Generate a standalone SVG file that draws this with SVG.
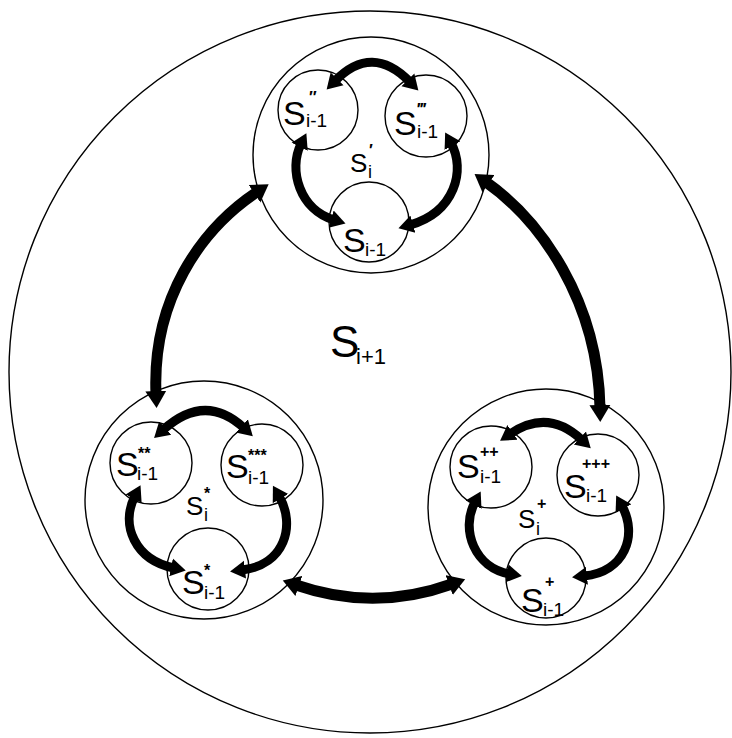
<svg xmlns="http://www.w3.org/2000/svg" width="732" height="738" viewBox="0 0 732 738">
<style>
.c{fill:none;stroke:#000;stroke-width:1.4}
.t{font-family:"Liberation Sans",Arial,sans-serif;fill:#000}
.S{font-size:34px}
.Sm{font-size:26px}
.Sb{font-size:44px}
.sub{font-size:19px}
.subm{font-size:18px}
.subb{font-size:22px}
.sup{font-size:16px;font-weight:bold}
.a{fill:none;stroke:#000;stroke-width:9;marker-start:url(#ah);marker-end:url(#ah)}
.b{fill:none;stroke:#000;stroke-width:11;marker-start:url(#bh);marker-end:url(#bh)}
</style>
<defs>
<marker id="ah" viewBox="0 -10 18 20" refX="3" refY="0" markerWidth="18" markerHeight="20" markerUnits="userSpaceOnUse" orient="auto-start-reverse"><path d="M0,-9 L15,0 L0,9 z" fill="#000"/></marker>
<marker id="bh" viewBox="0 -11 20 22" refX="3" refY="0" markerWidth="20" markerHeight="22" markerUnits="userSpaceOnUse" orient="auto-start-reverse"><path d="M0,-10.5 L17,0 L0,10.5 z" fill="#000"/></marker>
</defs>
<rect width="732" height="738" fill="#fff"/>

<g id="S_i+1">
<circle class="c" cx="370" cy="372" r="361"/>
<text class="t Sb" x="330" y="357">S</text><text class="t subb" x="356" y="364">i+1</text>
</g>

<g id="S_i_prime">
<circle class="c" cx="371" cy="155" r="118"/>
<text class="t Sm" x="350" y="172">S</text><text class="t subm" x="368" y="178">i</text><text class="t sup" x="369" y="156">′</text>
</g>
<g id="S_i-1_pp">
<circle class="c" cx="318" cy="110" r="40"/>
<text class="t S" x="283" y="125">S</text><text class="t sub" x="306" y="127">i-1</text><text class="t sup" x="309" y="103">″</text>
</g>
<g id="S_i-1_ppp">
<circle class="c" cx="426" cy="116" r="41"/>
<text class="t S" x="394" y="135">S</text><text class="t sub" x="417" y="138">i-1</text><text class="t sup" x="418" y="115">‴</text>
</g>
<g id="S_i-1">
<circle class="c" cx="369" cy="222" r="40"/>
<text class="t S" x="343" y="252">S</text><text class="t sub" x="365" y="256">i-1</text>
</g>

<g id="S_i_star">
<circle class="c" cx="204" cy="500" r="119"/>
<text class="t Sm" x="186" y="515">S</text><text class="t subm" x="204" y="521">i</text><text class="t sup" x="204" y="499">*</text>
</g>
<g id="S_i-1_ss">
<circle class="c" cx="151" cy="463" r="41"/>
<text class="t S" x="116" y="476">S</text><text class="t sub" x="137" y="480">i-1</text><text class="t sup" x="138" y="459">**</text>
</g>
<g id="S_i-1_sss">
<circle class="c" cx="262" cy="465" r="41"/>
<text class="t S" x="226" y="478">S</text><text class="t sub" x="248" y="484">i-1</text><text class="t sup" x="248" y="461">***</text>
</g>
<g id="S_i-1_s">
<circle class="c" cx="208" cy="569" r="41"/>
<text class="t S" x="182" y="594">S</text><text class="t sub" x="204" y="599">i-1</text><text class="t sup" x="204" y="576">*</text>
</g>

<g id="S_i_plus">
<circle class="c" cx="546" cy="507" r="118"/>
<text class="t Sm" x="518" y="528">S</text><text class="t subm" x="536" y="535">i</text><text class="t sup" x="537" y="509">+</text>
</g>
<g id="S_i-1_qq">
<circle class="c" cx="491" cy="467" r="41"/>
<text class="t S" x="457" y="478">S</text><text class="t sub" x="480" y="483">i-1</text><text class="t sup" x="480" y="457">++</text>
</g>
<g id="S_i-1_qqq">
<circle class="c" cx="598" cy="475" r="41"/>
<text class="t S" x="564" y="498">S</text><text class="t sub" x="586" y="502">i-1</text><text class="t sup" x="582" y="469">+++</text>
</g>
<g id="S_i-1_q">
<circle class="c" cx="546" cy="578" r="40"/>
<text class="t S" x="521" y="612">S</text><text class="t sub" x="543" y="616">i-1</text><text class="t sup" x="545" y="587">+</text>
</g>

<g id="connectors">
<path class="a" d="M335,81 Q372,43 410,82"/>
<path class="a" d="M301,144 C288,170 300,210 334,220"/>
<path class="a" d="M451,143 C466,170 455,212 410,225"/>
<path class="a" d="M163,430 Q205,392 244,428"/>
<path class="a" d="M135,496 C120,525 135,560 174,568"/>
<path class="a" d="M279,496 C296,525 285,565 242,570"/>
<path class="a" d="M510,434 Q548,408 582,440"/>
<path class="a" d="M475,502 C460,530 475,568 510,574"/>
<path class="a" d="M622,506 C638,535 625,572 584,576"/>
<path class="b" d="M257,192 C200,230 152,300 156,394"/>
<path class="b" d="M486,182 C540,220 598,300 600,408"/>
<path class="b" d="M296,585 Q374,612 452,584"/>
</g>
</svg>
